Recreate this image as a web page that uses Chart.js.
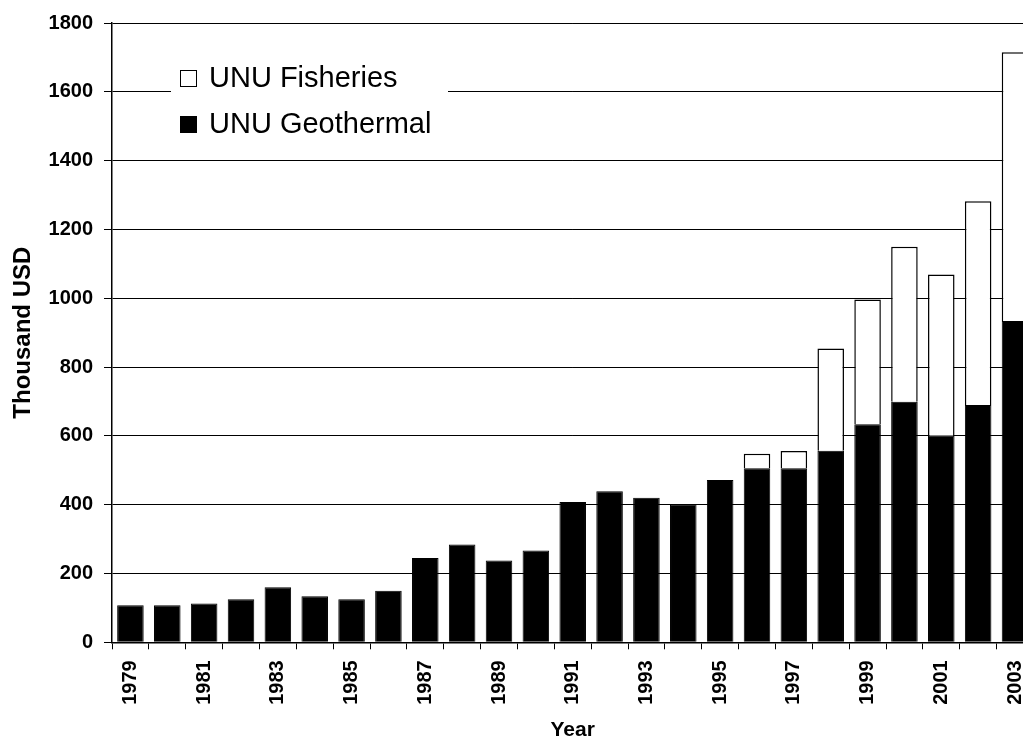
<!DOCTYPE html>
<html>
<head>
<meta charset="utf-8">
<script src="https://cdn.jsdelivr.net/npm/chart.js@4/dist/chart.umd.min.js"></script>
<style>
  html, body { margin: 0; padding: 0; background: #fff; overflow: hidden; }
  canvas { display: block; }
</style>
</head>
<body>
<canvas id="barchart" width="1050" height="743"></canvas>
<script>
// years on the x axis (every other one is labelled)
const years = ['1979', '1980', '1981', '1982', '1983', '1984', '1985', '1986', '1987',
  '1988', '1989', '1990', '1991', '1992', '1993', '1994', '1995', '1996', '1997',
  '1998', '1999', '2000', '2001', '2002', '2003'];

// thousand USD
const geothermal = [108, 108, 113, 125, 160, 134, 125, 150, 245, 284, 238, 267, 408,
  439, 420, 401, 472, 506, 506, 557, 634, 699, 600, 690, 934];
const fisheries = [null, null, null, null, null, null, null, null, null, null, null, null, null,
  null, null, null, null, 42, 50, 297, 362, 451, 469, 592, 781];

const fontFamily = '"Liberation Sans", Arial, sans-serif';

// legend drawn inside the plot, on a white patch over the grid
const boxLegend = {
    id: 'boxLegend',
    afterDraw(chart) {
        const ctx = chart.ctx;
        const a = chart.chartArea;
        const x0 = a.left + 59;
        const y0 = a.top + 34;
        ctx.save();
        ctx.fillStyle = '#fff';
        ctx.fillRect(x0, y0, 277, 86);
        const items = [chart.data.datasets[1], chart.data.datasets[0]];
        items.forEach(function (ds, i) {
            const by = y0 + 13 + i * 46;
            ctx.fillStyle = ds.backgroundColor;
            ctx.fillRect(x0 + 9, by, 17, 17);
            ctx.strokeStyle = '#000';
            ctx.lineWidth = 1;
            ctx.strokeRect(x0 + 9.5, by + 0.5, 16, 16);
            ctx.fillStyle = '#000';
            ctx.font = '29px ' + fontFamily;
            ctx.textBaseline = 'middle';
            ctx.fillText(ds.label, x0 + 38, by + 9);
        });
        ctx.restore();
    }
};

const ctx = document.getElementById('barchart').getContext('2d');
new Chart(ctx, {
    type: 'bar',
    data: {
        labels: years,
        datasets: [{
            label: 'UNU Geothermal',
            data: geothermal,
            backgroundColor: '#000',
            borderColor: '#000',
            borderWidth: 1
        }, {
            label: 'UNU Fisheries',
            data: fisheries,
            backgroundColor: '#fff',
            borderColor: '#000',
            borderWidth: 1.5
        }]
    },
    plugins: [boxLegend],
    options: {
        responsive: false,
        animation: false,
        categoryPercentage: 1.0,
        barPercentage: 0.72,
        layout: {
            padding: { top: 23, right: 0, bottom: 0, left: 0 }
        },
        plugins: {
            legend: { display: false },
            tooltip: { enabled: false }
        },
        scales: {
            x: {
                stacked: true,
                grid: {
                    offset: true,
                    drawOnChartArea: false,
                    drawTicks: true,
                    tickLength: 7,
                    color: '#000'
                },
                border: { color: '#000', width: 1.5 },
                ticks: {
                    autoSkip: false,
                    minRotation: 90,
                    maxRotation: 90,
                    padding: 11,
                    color: '#000',
                    font: { family: fontFamily, size: 20, weight: 'bold' },
                    callback: function (value, index) {
                        return index % 2 === 0 ? years[index] : '';
                    }
                },
                title: {
                    display: true,
                    text: 'Year',
                    color: '#000',
                    padding: { top: 2, bottom: 0 },
                    font: { family: fontFamily, size: 21, weight: 'bold' }
                }
            },
            y: {
                stacked: true,
                min: 0,
                max: 1800,
                afterFit: function (axis) { axis.width = 112; },
                grid: {
                    color: '#000',
                    lineWidth: 1,
                    drawTicks: true,
                    tickLength: 8
                },
                border: { color: '#000', width: 1.5 },
                ticks: {
                    stepSize: 200,
                    padding: 11,
                    color: '#000',
                    font: { family: fontFamily, size: 20, weight: 'bold' },
                    callback: function (value) { return String(value); }
                },
                title: {
                    display: true,
                    text: 'Thousand USD',
                    color: '#000',
                    padding: { top: 9, bottom: 0 },
                    font: { family: fontFamily, size: 24, weight: 'bold' }
                }
            }
        }
    }
});
</script>
</body>
</html>
